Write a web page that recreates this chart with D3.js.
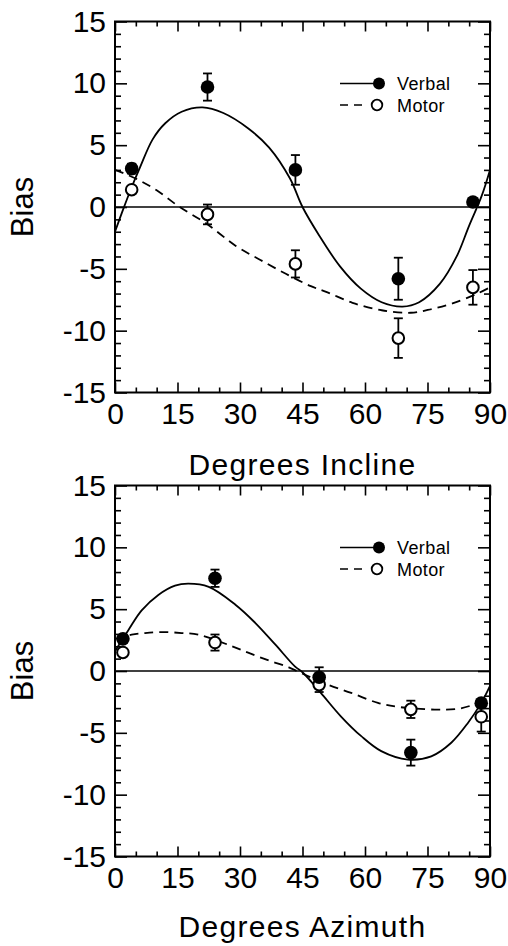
<!DOCTYPE html>
<html><head><meta charset="utf-8">
<script src="https://cdn.jsdelivr.net/npm/d3@7"></script>
<style>body{margin:0;background:#fff} svg{display:block}</style>
</head><body>
<script>
const xTicks=[0,15,30,45,60,75,90];
const yTicks=[-15,-10,-5,0,5,10,15];
const seriesNames=["Verbal","Motor"];
const xTitles=["Degrees Incline","Degrees Azimuth"];
const yTitle="Bias";

// Panel 1: Incline
const inclineAngles=[4.0,22.2,43.3,68.0,85.9];
const inclineVerbal=[3.1,9.7,3.0,-5.8,0.4];
const inclineVerbalErr=[0.4,1.1,1.2,1.7,0.3];
const inclineMotor=[1.4,-0.6,-4.6,-10.6,-6.5];
const inclineMotorErr=[0.3,0.8,1.1,1.6,1.4];
const inclineVerbalFitX=[0,2,4,6,9,12,16,21,26,32,37,42,45,49,54,59,64,69,73,78,82,85,88,90];
const inclineVerbalFitY=[-2.0,-0.15,1.6,3.2,5.45,6.75,7.7,8.05,7.6,6.35,4.8,2.3,0.0,-2.3,-4.8,-6.6,-7.7,-8.05,-7.7,-6.2,-4.0,-1.5,0.9,3.0];
const inclineMotorFitX=[0,5,10,15.5,22,29,35,41,47,51,57,64,71,76,81,87,90];
const inclineMotorFitY=[3.0,2.3,1.35,0.0,-1.35,-3.15,-4.3,-5.4,-6.4,-6.9,-7.75,-8.35,-8.55,-8.25,-7.8,-7.0,-6.5];

// Panel 2: Azimuth
const azimuthAngles=[1.9,24.0,49.0,71.0,87.9];
const azimuthVerbal=[2.6,7.5,-0.5,-6.6,-2.6];
const azimuthVerbalErr=[0.3,0.7,0.8,1.05,0.3];
const azimuthMotor=[1.5,2.3,-1.1,-3.1,-3.7];
const azimuthMotorErr=[0.2,0.65,0.6,0.7,1.2];
const azimuthVerbalFitX=[0,3.2,6.4,10.4,14.4,17.6,22.5,28.9,33.7,38.5,43.3,45,49.4,54.2,59.1,63.9,70.3,75.9,80.7,84.7,87.9,90];
const azimuthVerbalFitY=[1.6,3.3,4.9,6.15,6.9,7.06,6.8,5.36,3.88,2.13,0.33,-0.1,-1.77,-3.66,-5.27,-6.48,-7.16,-6.9,-5.8,-4.2,-2.58,-1.2];
const azimuthMotorFitX=[0,4,7.2,11.2,16,20,28.1,32.1,36.9,41.7,44.9,51,56.7,63.1,67.9,76.7,82.3,86.3,90];
const azimuthMotorFitY=[2.6,2.94,3.07,3.15,3.07,2.94,2.0,1.46,0.85,0.3,-0.2,-1.1,-1.77,-2.58,-2.9,-3.12,-3.06,-2.7,-2.2];

const panels=[
  {top:21.5, title:xTitles[0], titleY:475,
   angles:inclineAngles, verbal:inclineVerbal, verbalErr:inclineVerbalErr, motor:inclineMotor, motorErr:inclineMotorErr,
   vfx:inclineVerbalFitX, vfy:inclineVerbalFitY, mfx:inclineMotorFitX, mfy:inclineMotorFitY},
  {top:485.5, title:xTitles[1], titleY:937,
   angles:azimuthAngles, verbal:azimuthVerbal, verbalErr:azimuthVerbalErr, motor:azimuthMotor, motorErr:azimuthMotorErr,
   vfx:azimuthVerbalFitX, vfy:azimuthVerbalFitY, mfx:azimuthMotorFitX, mfy:azimuthMotorFitY}
];

const Wd=508, Ht=946, L=115, W=375, H=371;
const FONT="'Liberation Sans', Arial, Helvetica, sans-serif";
const svg=d3.select("body").append("svg").attr("width",Wd).attr("height",Ht);
svg.append("rect").attr("width",Wd).attr("height",Ht).attr("fill","#fff");

const x=d3.scaleLinear().domain([0,90]).range([0,W]);
const y=d3.scaleLinear().domain([-15,15]).range([H,0]);
const xMinor=d3.range(0,91,5).filter(d=>d%15!==0);
const yMinor=d3.range(-15,16,1).filter(d=>d%5!==0);

function styleAxis(g){
  g.select(".domain").remove();
  g.selectAll(".tick line").attr("stroke","#000").attr("stroke-width",1.6);
  g.selectAll("text").attr("font-family",FONT).attr("font-size",30).attr("fill","#000");
}

panels.forEach(p=>{
  const g=svg.append("g").attr("transform",`translate(${L},${p.top})`);

  // ticks
  g.append("g").attr("transform",`translate(0,${H})`)
    .call(d3.axisBottom(x).tickValues(xTicks).tickSizeInner(-10).tickSizeOuter(0).tickPadding(10).tickFormat(d3.format("d"))).call(styleAxis);
  g.append("g").attr("transform",`translate(0,${H})`)
    .call(d3.axisBottom(x).tickValues(xMinor).tickSizeInner(-5).tickSizeOuter(0).tickFormat("")).call(styleAxis);
  g.append("g")
    .call(d3.axisTop(x).tickValues(xTicks).tickSizeInner(-10).tickSizeOuter(0).tickFormat("")).call(styleAxis);
  g.append("g")
    .call(d3.axisTop(x).tickValues(xMinor).tickSizeInner(-5).tickSizeOuter(0).tickFormat("")).call(styleAxis);
  g.append("g")
    .call(d3.axisLeft(y).tickValues(yTicks).tickSizeInner(-12).tickSizeOuter(0).tickPadding(9).tickFormat(d=>d<0?"-"+Math.abs(d):String(d))).call(styleAxis);
  g.append("g")
    .call(d3.axisLeft(y).tickValues(yMinor).tickSizeInner(-6).tickSizeOuter(0).tickFormat("")).call(styleAxis);
  g.append("g").attr("transform",`translate(${W},0)`)
    .call(d3.axisRight(y).tickValues(yTicks).tickSizeInner(-12).tickSizeOuter(0).tickFormat("")).call(styleAxis);
  g.append("g").attr("transform",`translate(${W},0)`)
    .call(d3.axisRight(y).tickValues(yMinor).tickSizeInner(-6).tickSizeOuter(0).tickFormat("")).call(styleAxis);

  // frame
  g.append("rect").attr("width",W).attr("height",H).attr("fill","none").attr("stroke","#000").attr("stroke-width",2);

  // zero line
  g.append("line").attr("x1",x(0)).attr("x2",x(90)).attr("y1",y(0)).attr("y2",y(0))
    .attr("stroke","#000").attr("stroke-width",1.6);

  const line=d3.line().x(d=>x(d[0])).y(d=>y(d[1])).curve(d3.curveCatmullRom.alpha(0.5));
  g.append("path").datum(p.vfx.map((d,i)=>[d,p.vfy[i]])).attr("d",line)
    .attr("fill","none").attr("stroke","#000").attr("stroke-width",1.8);
  g.append("path").datum(p.mfx.map((d,i)=>[d,p.mfy[i]])).attr("d",line)
    .attr("fill","none").attr("stroke","#000").attr("stroke-width",1.8).attr("stroke-dasharray","9,6");

  // error bars
  const drawErr=(vals,errs)=>{
    const eg=g.append("g").attr("stroke","#000").attr("stroke-width",1.8);
    p.angles.forEach((a,i)=>{
      const cx=x(a), y1=y(vals[i]+errs[i]), y2=y(vals[i]-errs[i]);
      eg.append("line").attr("x1",cx).attr("x2",cx).attr("y1",y1).attr("y2",y2);
      eg.append("line").attr("x1",cx-4.5).attr("x2",cx+4.5).attr("y1",y1).attr("y2",y1);
      eg.append("line").attr("x1",cx-4.5).attr("x2",cx+4.5).attr("y1",y2).attr("y2",y2);
    });
  };
  drawErr(p.verbal,p.verbalErr);
  drawErr(p.motor,p.motorErr);

  g.append("g").selectAll("circle").data(p.angles).join("circle")
    .attr("cx",d=>x(d)).attr("cy",(d,i)=>y(p.motor[i])).attr("r",5.8)
    .attr("fill","#fff").attr("stroke","#000").attr("stroke-width",2);
  g.append("g").selectAll("circle").data(p.angles).join("circle")
    .attr("cx",d=>x(d)).attr("cy",(d,i)=>y(p.verbal[i])).attr("r",6.8)
    .attr("fill","#000");

  // legend
  const lg=g.append("g").attr("transform",`translate(225,62)`);
  lg.append("line").attr("x1",0).attr("x2",34).attr("y1",0).attr("y2",0).attr("stroke","#000").attr("stroke-width",1.6);
  lg.append("circle").attr("cx",39).attr("cy",0).attr("r",6).attr("fill","#000");
  lg.append("text").attr("x",57).attr("y",6).text(seriesNames[0])
    .attr("font-family",FONT).attr("font-size",18).attr("letter-spacing",0.4);
  lg.append("line").attr("x1",0).attr("x2",23).attr("y1",21.5).attr("y2",21.5).attr("stroke","#000").attr("stroke-width",1.6).attr("stroke-dasharray","8,6");
  lg.append("circle").attr("cx",37).attr("cy",21.5).attr("r",5.3).attr("fill","#fff").attr("stroke","#000").attr("stroke-width",1.8);
  lg.append("text").attr("x",57).attr("y",28).text(seriesNames[1])
    .attr("font-family",FONT).attr("font-size",18).attr("letter-spacing",0.4);

  // titles
  svg.append("text").attr("x",L+W/2).attr("y",p.titleY).attr("text-anchor","middle")
    .attr("font-family",FONT).attr("font-size",30).attr("letter-spacing",1.3).text(p.title);
  svg.append("text").attr("transform",`translate(33,${p.top+y(0)}) rotate(-90)`).attr("text-anchor","middle")
    .attr("font-family",FONT).attr("font-size",31).text(yTitle);
});
</script>
</body></html>
